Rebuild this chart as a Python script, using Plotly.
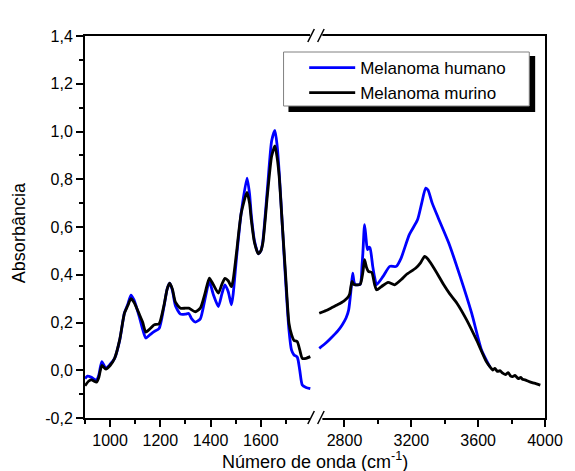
import plotly.graph_objects as go

# ---------------- data ----------------
wn_left_humano = [900, 910, 926, 946, 955, 967, 983, 1000, 1018, 1038, 1057, 1070, 1083, 1095, 1116, 1130,
                  1142, 1160, 1175, 1195, 1214, 1227, 1237, 1248, 1260, 1280, 1300, 1313, 1325, 1339, 1359,
                  1378, 1395, 1410, 1431, 1445, 1457, 1470, 1483, 1490, 1503, 1522, 1545, 1555, 1562, 1575,
                  1590, 1600, 1608, 1627, 1643, 1656, 1665, 1673, 1686, 1699, 1712, 1722, 1732, 1745, 1755,
                  1765, 1780, 1797]
abs_left_humano = [-0.035, -0.025, -0.03, -0.042, -0.02, 0.036, 0.008, 0.025, 0.05, 0.125, 0.24, 0.275, 0.315,
                   0.295, 0.225, 0.17, 0.135, 0.15, 0.162, 0.175, 0.265, 0.34, 0.365, 0.335, 0.27, 0.235, 0.235,
                   0.238, 0.215, 0.202, 0.215, 0.30, 0.372, 0.32, 0.267, 0.32, 0.358, 0.33, 0.274, 0.32, 0.47,
                   0.66, 0.805, 0.74, 0.65, 0.54, 0.488, 0.50, 0.54, 0.77, 0.96, 1.005, 0.94, 0.83, 0.60, 0.37,
                   0.169, 0.085, 0.064, 0.055, 0.0, -0.062, -0.072, -0.077]

wn_left_murino = [900, 915, 926, 946, 955, 967, 983, 1000, 1018, 1038, 1057, 1070, 1083, 1095, 1116, 1130,
                  1142, 1160, 1175, 1195, 1214, 1227, 1237, 1248, 1260, 1280, 1300, 1313, 1339, 1359, 1378,
                  1395, 1410, 1431, 1445, 1457, 1470, 1483, 1490, 1503, 1522, 1545, 1555, 1562, 1575, 1590,
                  1600, 1608, 1627, 1643, 1656, 1665, 1673, 1686, 1699, 1712, 1722, 1732, 1745, 1755, 1765,
                  1780, 1797]
abs_left_murino = [-0.065, -0.045, -0.04, -0.05, -0.03, 0.02, 0.005, 0.02, 0.05, 0.127, 0.239, 0.27, 0.30,
                   0.285, 0.235, 0.2, 0.16, 0.175, 0.19, 0.195, 0.27, 0.34, 0.365, 0.34, 0.285, 0.26, 0.26,
                   0.26, 0.245, 0.26, 0.323, 0.386, 0.36, 0.323, 0.36, 0.385, 0.375, 0.35, 0.38, 0.491, 0.659,
                   0.745, 0.70, 0.63, 0.533, 0.488, 0.50, 0.533, 0.743, 0.896, 0.94, 0.89, 0.812, 0.602, 0.393,
                   0.197, 0.15, 0.125, 0.12, 0.085, 0.05, 0.05, 0.057]

wn_right_humano = [2649, 2690, 2718, 2760, 2786, 2810, 2825, 2839, 2849, 2857, 2865, 2894, 2905, 2910, 2920,
                   2928, 2937, 2945, 2953, 2969, 2980, 2992, 3031, 3071, 3110, 3139, 3188, 3237, 3262, 3286,
                   3300, 3325, 3360, 3424, 3492, 3561, 3620, 3659, 3670]
abs_right_humano = [0.092, 0.115, 0.134, 0.165, 0.19, 0.22, 0.253, 0.337, 0.407, 0.37, 0.358, 0.36, 0.44, 0.49,
                    0.61, 0.56, 0.505, 0.515, 0.512, 0.435, 0.39, 0.358, 0.393, 0.435, 0.435, 0.47, 0.568, 0.63,
                    0.70, 0.763, 0.755, 0.70, 0.64, 0.533, 0.393, 0.239, 0.085, 0.029, 0.015]

wn_right_murino = [2649, 2690, 2718, 2760, 2796, 2820, 2831, 2845, 2855, 2865, 2894, 2910, 2920, 2932, 2943,
                   2963, 2980, 2992, 3022, 3061, 3100, 3140, 3169, 3227, 3255, 3280, 3300, 3316, 3365, 3394,
                   3430, 3473, 3531, 3590, 3649, 3670, 3688, 3700, 3715, 3730, 3747, 3765, 3780, 3795, 3806,
                   3820, 3840, 3855, 3865, 3880, 3900, 3923, 3945, 3972]
abs_right_murino = [0.239, 0.25, 0.26, 0.275, 0.29, 0.305, 0.32, 0.372, 0.36, 0.358, 0.36, 0.41, 0.463, 0.43,
                    0.414, 0.41, 0.36, 0.337, 0.351, 0.368, 0.358, 0.38, 0.40, 0.428, 0.45, 0.477, 0.465, 0.449,
                    0.393, 0.358, 0.32, 0.281, 0.211, 0.127, 0.036, 0.015, 0.001, 0.008, -0.005, -0.002, -0.012,
                    -0.018, -0.01, -0.025, -0.027, -0.022, -0.035, -0.03, -0.038, -0.04, -0.046, -0.052, -0.056,
                    -0.062]

series_names = ["Melanoma humano", "Melanoma murino"]
series_colors = ["#0000FF", "#000000"]

y_tickvals = [-0.2, 0.0, 0.2, 0.4, 0.6, 0.8, 1.0, 1.2, 1.4]
y_ticktext = ["-0,2", "0,0", "0,2", "0,4", "0,6", "0,8", "1,0", "1,2", "1,4"]
y_minor = [-0.1, 0.1, 0.3, 0.5, 0.7, 0.9, 1.1, 1.3]
x1_tickvals = [1000, 1200, 1400, 1600]
x1_minor = [900, 1100, 1300, 1500, 1700]
x2_tickvals = [2800, 3200, 3600, 4000]
x2_minor = [3000, 3400, 3800]

# ---------------- layout geometry (pixels) ----------------
W, H = 575, 471
L, R, T, B = 85, 553, 36, 418
BREAK = 315
FONT = "Arial, 'Liberation Sans', sans-serif"


def px(x):
    return (x - L) / (R - L)


def py(y):
    return (B - y) / (B - T)


split = px(BREAK)
LINE_W = 2.8

fig = go.Figure()
fig.add_trace(go.Scatter(x=wn_left_humano, y=abs_left_humano, mode="lines", name=series_names[0],
                         line=dict(color=series_colors[0], width=LINE_W, shape="spline", smoothing=0.6),
                         xaxis="x", yaxis="y", legendgroup="h"))
fig.add_trace(go.Scatter(x=wn_left_murino, y=abs_left_murino, mode="lines", name=series_names[1],
                         line=dict(color=series_colors[1], width=LINE_W, shape="spline", smoothing=0.6),
                         xaxis="x", yaxis="y", legendgroup="m"))
fig.add_trace(go.Scatter(x=wn_right_humano, y=abs_right_humano, mode="lines", name=series_names[0],
                         line=dict(color=series_colors[0], width=LINE_W, shape="spline", smoothing=0.6),
                         xaxis="x2", yaxis="y2", legendgroup="h", showlegend=False))
fig.add_trace(go.Scatter(x=wn_right_murino, y=abs_right_murino, mode="lines", name=series_names[1],
                         line=dict(color=series_colors[1], width=LINE_W, shape="spline", smoothing=0.6),
                         xaxis="x2", yaxis="y2", legendgroup="m", showlegend=False))

axis_common = dict(showgrid=False, zeroline=False, showline=True, linecolor="black", linewidth=2,
                   ticks="outside", ticklen=7, tickwidth=1.5, tickcolor="black",
                   tickfont=dict(family=FONT, size=16, color="black"))

fig.update_layout(
    width=W, height=H,
    margin=dict(l=L, r=W - R, t=T, b=H - B),
    paper_bgcolor="white", plot_bgcolor="white",
    showlegend=True,
    xaxis=dict(domain=[0, split], range=[900, 1800], tickvals=x1_tickvals, mirror=True,
               minor=dict(tickvals=x1_minor, ticks="outside", ticklen=4, tickwidth=1.5, tickcolor="black"),
               anchor="y", **axis_common),
    xaxis2=dict(domain=[split, 1], range=[2600, 4000], tickvals=x2_tickvals, mirror=True,
                minor=dict(tickvals=x2_minor, ticks="outside", ticklen=4, tickwidth=1.5, tickcolor="black"),
                anchor="y2", **axis_common),
    yaxis=dict(range=[-0.2, 1.4], tickvals=y_tickvals, ticktext=y_ticktext, anchor="x",
               minor=dict(tickvals=y_minor, ticks="outside", ticklen=4, tickwidth=1.5, tickcolor="black"),
               **axis_common),
    yaxis2=dict(range=[-0.2, 1.4], matches="y", anchor="x2", side="right", showgrid=False,
                zeroline=False, showline=True, linecolor="black", linewidth=2, ticks="",
                showticklabels=False),
    legend=dict(x=px(308), y=py(50), xanchor="left", yanchor="top",
                bgcolor="rgba(0,0,0,0)", borderwidth=0, itemwidth=46,
                font=dict(family=FONT, size=17, color="black"), tracegroupgap=0),
)

shapes = []
# legend shadow and box
shapes.append(dict(type="rect", xref="paper", yref="paper", x0=px(292), x1=px(543), y0=py(112), y1=py(56),
                   fillcolor="black", line=dict(width=0), layer="above"))
shapes.append(dict(type="rect", xref="paper", yref="paper", x0=px(287), x1=px(537), y0=py(106), y1=py(52),
                   fillcolor="white", line=dict(color="#808080", width=1), layer="above"))
# axis break marks, bottom and top
for yb in (B, T):
    shapes.append(dict(type="rect", xref="paper", yref="paper", x0=px(314), x1=px(326.5),
                       y0=py(yb + 3), y1=py(yb - 3), fillcolor="white", line=dict(width=0), layer="above"))
    for xo in (0, 10):
        shapes.append(dict(type="line", xref="paper", yref="paper",
                           x0=px(311.7 + xo), y0=py(yb + 6), x1=px(318.3 + xo), y1=py(yb - 7),
                           line=dict(color="black", width=1.5), layer="above"))
fig.update_layout(shapes=shapes)

fig.add_annotation(text="Número de onda (cm<sup>-1</sup>)", xref="paper", yref="paper",
                   x=px(319), y=py(460), xanchor="center", yanchor="middle", showarrow=False,
                   font=dict(family=FONT, size=18, color="black"))
fig.add_annotation(text="Absorbância", xref="paper", yref="paper", textangle=-90,
                   x=px(18), y=py(233), xanchor="center", yanchor="middle", showarrow=False,
                   font=dict(family=FONT, size=18, color="black"))

fig.write_html("out.html")
